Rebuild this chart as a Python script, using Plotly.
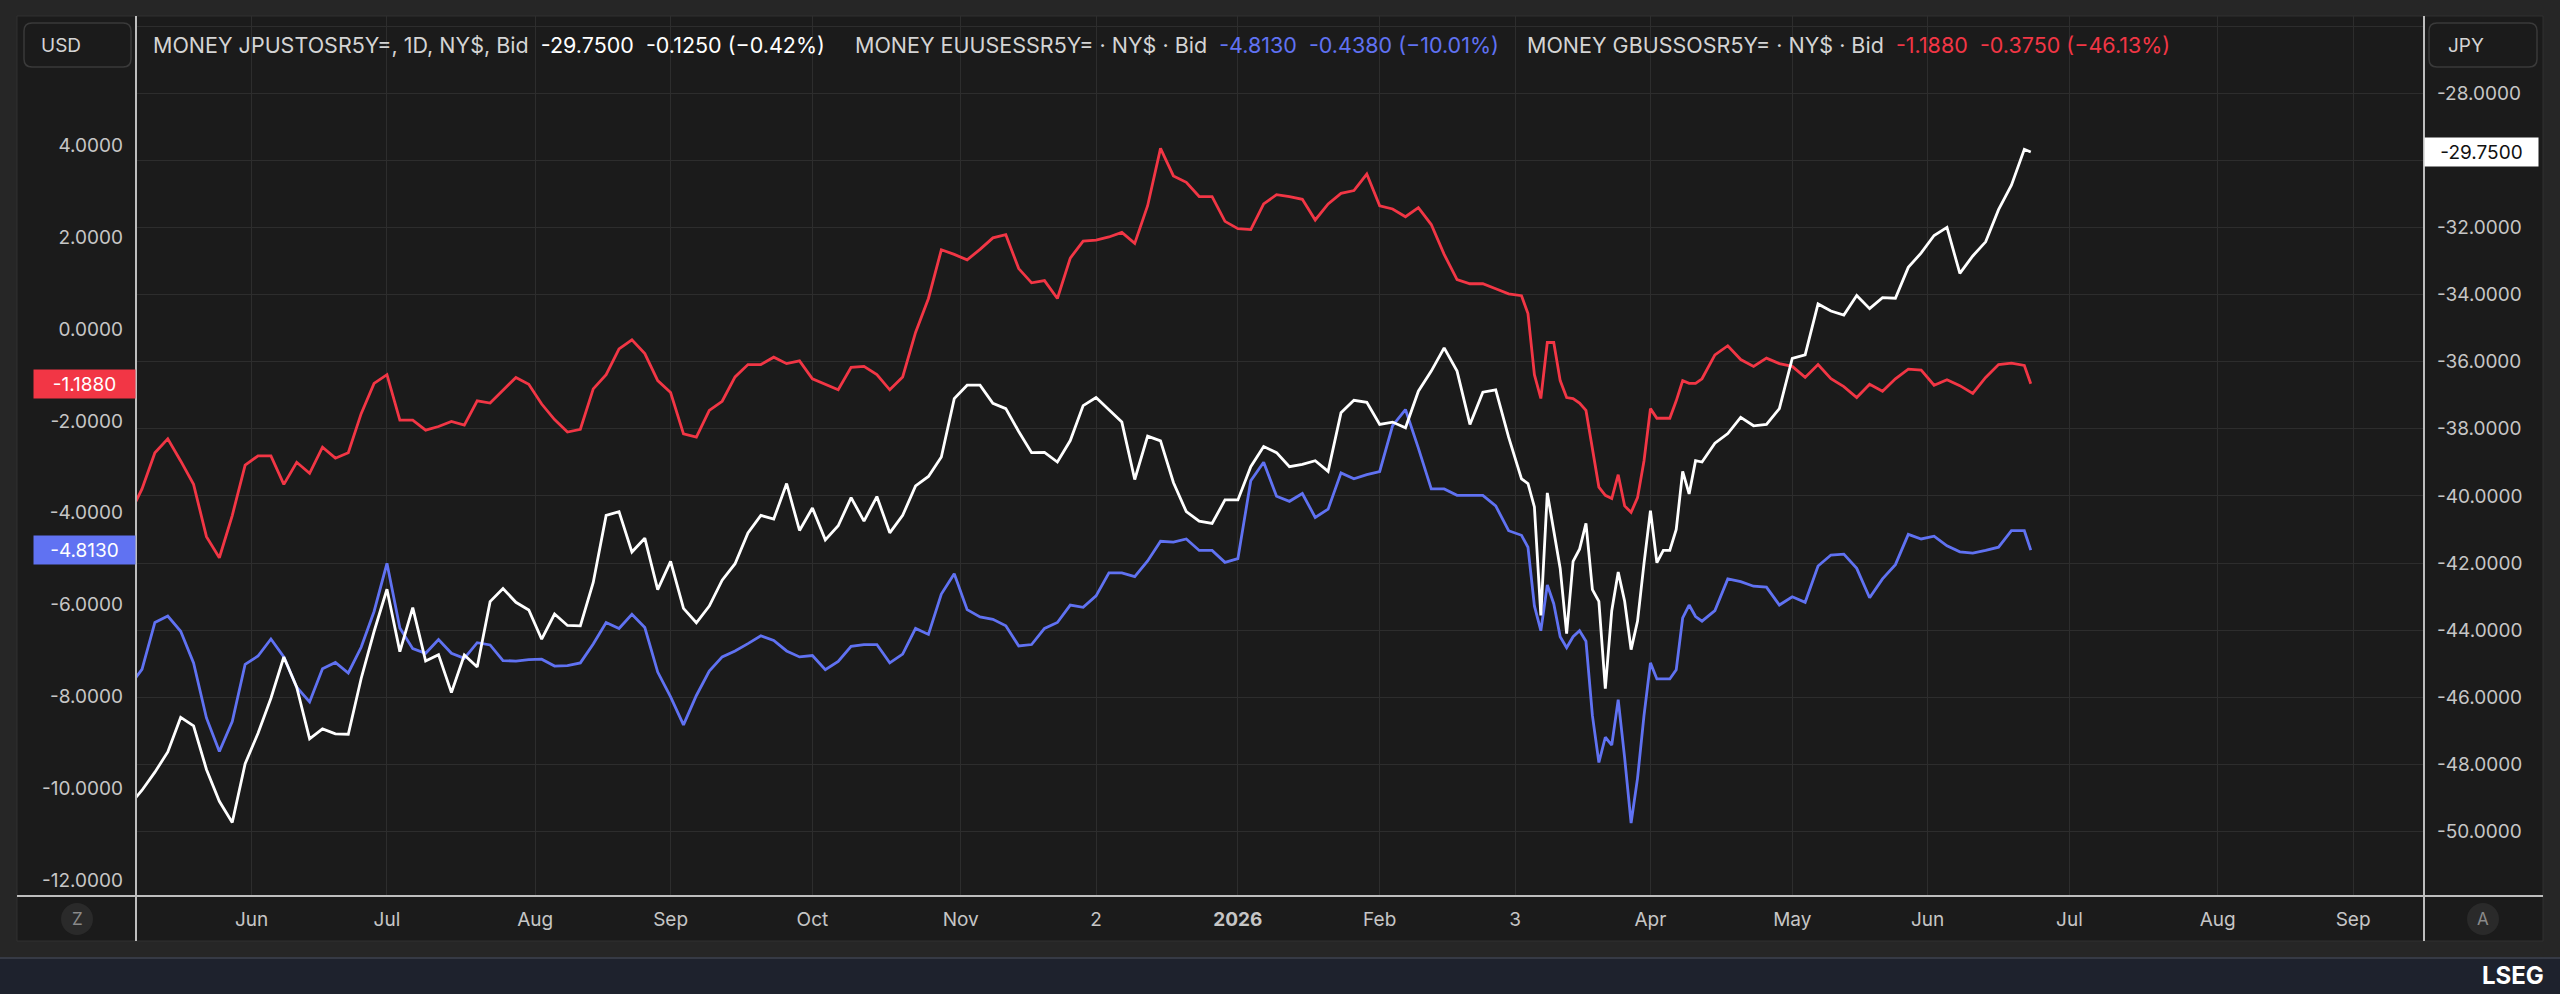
import pandas as pd
import plotly.graph_objects as go

# Dates: every 2nd business day, daily through the volatile March/April stretch
dates = pd.DatetimeIndex(["2025-05-07"]).append([
    pd.date_range("2025-05-08", "2026-03-04", freq="2B"),
    pd.date_range("2026-03-05", "2026-04-13", freq="B"),
    pd.date_range("2026-04-15", "2026-06-22", freq="2B"),
    pd.DatetimeIndex(["2026-06-23"]),
])

# MONEY JPUSTOSR5Y= (JPY axis, white)
jp_us = [
    -49.00,
    -48.77, -48.23, -47.63, -46.60, -46.85, -48.15, -49.10, -49.73, -47.98, -47.07,
    -46.03, -44.80, -45.70, -47.24, -46.94, -47.09, -47.10, -45.44, -44.04, -42.78,
    -44.64, -43.33, -44.92, -44.73, -45.86, -44.74, -45.10, -43.15, -42.76, -43.17,
    -43.40, -44.27, -43.52, -43.86, -43.87, -42.58, -40.58, -40.47, -41.67, -41.26,
    -42.79, -41.95, -43.35, -43.78, -43.28, -42.51, -42.02, -41.10, -40.58, -40.69,
    -39.63, -41.03, -40.36, -41.31, -40.89, -40.05, -40.75, -40.02, -41.10, -40.58,
    -39.70, -39.42, -38.84, -37.10, -36.70, -36.70, -37.24, -37.40, -38.08, -38.71,
    -38.70, -38.99, -38.35, -37.31, -37.07, -37.43, -37.80, -39.51, -38.22, -38.36,
    -39.60, -40.47, -40.75, -40.82, -40.12, -40.12, -39.13, -38.53, -38.71, -39.13,
    -39.06, -38.95, -39.27, -37.52, -37.15, -37.21, -37.87, -37.80, -37.97, -36.88,
    -36.28, -35.59, -36.28, -37.87, -36.91, -36.84, -38.25, -39.49,
    -39.63, -40.33, -43.56, -39.91, -41.03, -42.16, -44.10, -41.95, -41.59, -40.82,
    -42.79, -43.14, -45.74, -43.42, -42.27, -43.14, -44.58, -43.73, -42.02, -40.44,
    -41.99, -41.62, -41.62, -41.00, -39.27, -39.94, -38.95, -38.99,
    -38.43, -38.14, -37.66, -37.91, -37.87, -37.40, -35.90, -35.80, -34.28, -34.49,
    -34.61, -34.03, -34.42, -34.09, -34.11, -33.19, -32.76, -32.24, -32.00, -33.37,
    -32.85, -32.43, -31.47, -30.74, -29.67,
    -29.75,
]

# MONEY EUUSESSR5Y= (USD axis, blue)
eu_us = [
    -7.60,
    -7.41, -6.39, -6.25, -6.58, -7.27, -8.47, -9.20, -8.55, -7.30, -7.12,
    -6.75, -7.14, -7.80, -8.12, -7.40, -7.26, -7.49, -6.93, -6.15, -5.10,
    -6.51, -6.96, -7.06, -6.76, -7.06, -7.17, -6.83, -6.88, -7.22, -7.23,
    -7.20, -7.19, -7.34, -7.33, -7.27, -6.86, -6.39, -6.52, -6.21, -6.50,
    -7.47, -8.01, -8.62, -7.98, -7.45, -7.14, -7.01, -6.85, -6.68, -6.78,
    -7.01, -7.14, -7.11, -7.42, -7.24, -6.91, -6.87, -6.87, -7.27, -7.08,
    -6.52, -6.65, -5.77, -5.33, -6.11, -6.27, -6.32, -6.46, -6.90, -6.87,
    -6.52, -6.39, -6.01, -6.06, -5.81, -5.31, -5.31, -5.39, -5.05, -4.62,
    -4.64, -4.57, -4.82, -4.82, -5.08, -5.00, -3.30, -2.90, -3.64, -3.75,
    -3.58, -4.10, -3.92, -3.13, -3.26, -3.17, -3.10, -2.10, -1.75, -2.59,
    -3.48, -3.48, -3.62, -3.62, -3.62, -3.85, -4.39, -4.49,
    -4.75, -6.03, -6.57, -5.57, -5.98, -6.70, -6.94, -6.70, -6.57, -6.80,
    -8.42, -9.44, -8.89, -9.06, -8.07, -9.34, -10.76, -9.78, -8.42, -7.27,
    -7.62, -7.62, -7.62, -7.42, -6.29, -6.01, -6.26, -6.36,
    -6.13, -5.44, -5.50, -5.60, -5.62, -6.01, -5.83, -5.95, -5.16, -4.92,
    -4.90, -5.21, -5.85, -5.44, -5.13, -4.47, -4.57, -4.51, -4.72, -4.85,
    -4.88, -4.82, -4.75, -4.39, -4.39,
    -4.813,
]

# MONEY GBUSSOSR5Y= (USD axis, red)
gb_us = [
    -3.77,
    -3.48, -2.69, -2.39, -2.87, -3.38, -4.52, -4.98, -4.06, -2.96, -2.76,
    -2.76, -3.38, -2.90, -3.14, -2.57, -2.81, -2.69, -1.84, -1.18, -0.99,
    -1.98, -1.98, -2.20, -2.12, -2.01, -2.09, -1.56, -1.61, -1.32, -1.05,
    -1.20, -1.63, -1.97, -2.24, -2.18, -1.30, -0.99, -0.43, -0.23, -0.53,
    -1.12, -1.38, -2.28, -2.35, -1.77, -1.57, -1.04, -0.77, -0.77, -0.61,
    -0.75, -0.69, -1.08, -1.20, -1.32, -0.83, -0.81, -0.99, -1.32, -1.04,
    -0.07, 0.67, 1.73, 1.63, 1.51, 1.74, 1.99, 2.06, 1.32, 1.01,
    1.06, 0.67, 1.55, 1.92, 1.94, 2.01, 2.11, 1.87, 2.69, 3.94,
    3.34, 3.20, 2.89, 2.89, 2.35, 2.19, 2.17, 2.73, 2.93, 2.89,
    2.83, 2.38, 2.73, 2.96, 3.02, 3.38, 2.69, 2.62, 2.45, 2.65,
    2.28, 1.63, 1.08, 0.99, 0.99, 0.88, 0.77, 0.73,
    0.34, -0.99, -1.51, -0.29, -0.29, -1.12, -1.49, -1.51, -1.61, -1.77,
    -2.64, -3.44, -3.62, -3.69, -3.17, -3.85, -3.99, -3.67, -2.87, -1.73,
    -1.94, -1.94, -1.94, -1.56, -1.12, -1.18, -1.18, -1.08,
    -0.56, -0.36, -0.66, -0.81, -0.63, -0.75, -0.81, -1.05, -0.77, -1.08,
    -1.25, -1.49, -1.20, -1.35, -1.08, -0.87, -0.89, -1.22, -1.10, -1.23,
    -1.40, -1.05, -0.77, -0.74, -0.79,
    -1.188,
]

assert len(dates) == len(jp_us) == len(eu_us) == len(gb_us), (len(dates), len(jp_us), len(eu_us), len(gb_us))

usd_ticks = [4, 2, 0, -2, -4, -6, -8, -10, -12]
jpy_ticks = [-26, -28, -30, -32, -34, -36, -38, -40, -42, -44, -46, -48, -50]
month_ticks = ["2025-06-02", "2025-07-01", "2025-08-01", "2025-09-01", "2025-10-01",
               "2025-11-03", "2025-12-02", "2026-01-01", "2026-02-02", "2026-03-03",
               "2026-04-01", "2026-05-01", "2026-06-01", "2026-07-01", "2026-08-03",
               "2026-09-01"]
month_labels = ["Jun", "Jul", "Aug", "Sep", "Oct", "Nov", "2", "<b>2026</b>", "Feb", "3",
                "Apr", "May", "Jun", "Jul", "Aug", "Sep"]

WHITE = "#ffffff"
BLUE = "#6072f2"
RED = "#f23645"
GRID = "#2d2d2d"
TXT = "#c6c6c6"
FONT = "Inter, Roboto, sans-serif"

# plot area in pixels
PL, PR, PT, PB = 136, 2424, 16, 896


def fx(px):
    return (px - PL) / (PR - PL)


def fy(py):
    return (PB - py) / (PB - PT)


def rbox(x0, y0, x1, y1, r):
    pts = [("M", x0 + r, y0), ("L", x1 - r, y0), ("Q", x1, y0, x1, y0 + r),
           ("L", x1, y1 - r), ("Q", x1, y1, x1 - r, y1), ("L", x0 + r, y1),
           ("Q", x0, y1, x0, y1 - r), ("L", x0, y0 + r), ("Q", x0, y0, x0 + r, y0)]
    out = ""
    for p in pts:
        out += p[0]
        coords = p[1:]
        out += " ".join(f"{fx(coords[i]):.5f},{fy(coords[i + 1]):.5f}" for i in range(0, len(coords), 2)) + " "
    return out + "Z"


fig = go.Figure()

fig.add_trace(go.Scatter(x=dates, y=eu_us, mode="lines", name="EUUSESSR5Y=",
                         line=dict(color=BLUE, width=2.8), yaxis="y"))
fig.add_trace(go.Scatter(x=dates, y=gb_us, mode="lines", name="GBUSSOSR5Y=",
                         line=dict(color=RED, width=2.8), yaxis="y"))
fig.add_trace(go.Scatter(x=dates, y=jp_us, mode="lines", name="JPUSTOSR5Y=",
                         line=dict(color=WHITE, width=2.8), yaxis="y2"))

shapes = [
    # chart pane
    dict(type="rect", xref="paper", yref="paper", x0=fx(17), x1=fx(2543), y0=fy(16), y1=fy(941),
         fillcolor="#1b1b1b", line=dict(color="#303030", width=1), layer="below"),
    # footer bar
    dict(type="rect", xref="paper", yref="paper", x0=fx(0), x1=fx(2560), y0=fy(958), y1=fy(1000),
         fillcolor="#1e222d", line=dict(width=0), layer="below"),
    dict(type="line", xref="paper", yref="paper", x0=fx(0), x1=fx(2560), y0=fy(958), y1=fy(958),
         line=dict(color="#363a45", width=2)),
    # axis lines
    dict(type="line", xref="paper", yref="paper", x0=0, x1=0, y0=fy(16), y1=fy(941),
         line=dict(color="#bdbdbd", width=2)),
    dict(type="line", xref="paper", yref="paper", x0=1, x1=1, y0=fy(16), y1=fy(941),
         line=dict(color="#bdbdbd", width=2)),
    dict(type="line", xref="paper", yref="paper", x0=fx(17), x1=fx(2543), y0=0, y1=0,
         line=dict(color="#bdbdbd", width=2)),
    # currency boxes
    dict(type="path", xref="paper", yref="paper", path=rbox(24, 23, 131, 67, 8),
         fillcolor="#1b1b1b", line=dict(color="#3a3a3a", width=1.5)),
    dict(type="path", xref="paper", yref="paper", path=rbox(2429, 23, 2537, 67, 8),
         fillcolor="#1b1b1b", line=dict(color="#3a3a3a", width=1.5)),
    # Z / A buttons
    dict(type="circle", xref="paper", yref="paper", x0=fx(61), x1=fx(93), y0=fy(903), y1=fy(935),
         fillcolor="#2a2a2a", line=dict(width=0)),
    dict(type="circle", xref="paper", yref="paper", x0=fx(2467), x1=fx(2499), y0=fy(903), y1=fy(935),
         fillcolor="#2a2a2a", line=dict(width=0)),
]

NB = "\u00a0"


def header(label, values, color):
    return (f'<span style="color:#d4d4d4">{label}</span>{NB}{NB}'
            f'<span style="color:{color}">{values}</span>')


annotations = [
    dict(x=fx(151), y=fy(45), xref="paper", yref="paper", xanchor="left", yanchor="middle",
         showarrow=False, font=dict(size=21.5),
         text=header("MONEY JPUSTOSR5Y=, 1D, NY$, Bid",
                     f"{jp_us[-1]:.4f}{NB}{NB}-0.1250 (\u22120.42%)", WHITE)),
    dict(x=fx(853), y=fy(45), xref="paper", yref="paper", xanchor="left", yanchor="middle",
         showarrow=False, font=dict(size=21.5),
         text=header(f"MONEY EUUSESSR5Y= \u00b7 NY$ \u00b7 Bid",
                     f"{eu_us[-1]:.4f}{NB}{NB}-0.4380 (\u221210.01%)", BLUE)),
    dict(x=fx(1525), y=fy(45), xref="paper", yref="paper", xanchor="left", yanchor="middle",
         showarrow=False, font=dict(size=21.5),
         text=header(f"MONEY GBUSSOSR5Y= \u00b7 NY$ \u00b7 Bid",
                     f"{gb_us[-1]:.4f}{NB}{NB}-0.3750 (\u221246.13%)", RED)),
    dict(x=fx(39), y=fy(45), xref="paper", yref="paper", xanchor="left", yanchor="middle",
         showarrow=False, text="USD", font=dict(size=19, color="#d4d4d4")),
    dict(x=fx(2446), y=fy(45), xref="paper", yref="paper", xanchor="left", yanchor="middle",
         showarrow=False, text="JPY", font=dict(size=19, color="#d4d4d4")),
    dict(x=fx(77), y=fy(919), xref="paper", yref="paper", xanchor="center", yanchor="middle",
         showarrow=False, text="Z", font=dict(size=17, color="#8a8a8a")),
    dict(x=fx(2483), y=fy(919), xref="paper", yref="paper", xanchor="center", yanchor="middle",
         showarrow=False, text="A", font=dict(size=17, color="#8a8a8a")),
    # last value markers
    dict(x=0, y=gb_us[-1], xref="paper", yref="y", xanchor="right", yanchor="middle",
         showarrow=False, text=f"{gb_us[-1]:.4f}", bgcolor=RED, width=101, height=28,
         borderpad=0, align="center", font=dict(size=19, color=WHITE)),
    dict(x=0, y=eu_us[-1], xref="paper", yref="y", xanchor="right", yanchor="middle",
         showarrow=False, text=f"{eu_us[-1]:.4f}", bgcolor=BLUE, width=101, height=28,
         borderpad=0, align="center", font=dict(size=19, color=WHITE)),
    dict(x=1, y=jp_us[-1], xref="paper", yref="y2", xanchor="left", yanchor="middle",
         showarrow=False, text=f"{jp_us[-1]:.4f}", bgcolor=WHITE, width=113, height=28,
         borderpad=0, align="center", font=dict(size=19, color="#111111")),
    # footer logo
    dict(x=fx(2546), y=fy(976), xref="paper", yref="paper", xanchor="right", yanchor="middle",
         showarrow=False, text="<b>LSEG</b>", font=dict(size=24, color=WHITE)),
]

fig.update_layout(
    width=2560,
    height=994,
    margin=dict(l=PL, r=2560 - PR, t=PT, b=994 - PB, pad=0),
    paper_bgcolor="#262626",
    plot_bgcolor="#1b1b1b",
    showlegend=False,
    hovermode=False,
    font=dict(family=FONT, size=19, color=TXT),
    shapes=shapes,
    annotations=annotations,
    xaxis=dict(
        type="date",
        range=["2025-05-07 01:40", "2026-09-16"],
        rangebreaks=[dict(bounds=["sat", "mon"])],
        tickmode="array",
        tickvals=month_ticks,
        ticktext=month_labels,
        showgrid=True, gridcolor=GRID, gridwidth=1,
        zeroline=False, showline=False, ticks="",
        ticklabelstandoff=10,
    ),
    yaxis=dict(
        range=[-12.349, 6.824],
        tickmode="array",
        tickvals=usd_ticks,
        ticktext=[f"{v:.4f}" for v in usd_ticks],
        showgrid=False, zeroline=False, showline=False, ticks="",
        ticklabelstandoff=12,
    ),
    yaxis2=dict(
        overlaying="y",
        side="right",
        range=[-51.921, -25.700],
        tickmode="array",
        tickvals=jpy_ticks,
        ticktext=["" if v in (-26, -30) else f"{v:.4f}" for v in jpy_ticks],
        showgrid=True, gridcolor=GRID, gridwidth=1,
        zeroline=False, showline=False, ticks="",
        ticklabelstandoff=12,
    ),
)

fig.write_html("out.html", config={"displayModeBar": False},
               post_script="document.body.style.margin='0';document.body.style.overflow='hidden';")
